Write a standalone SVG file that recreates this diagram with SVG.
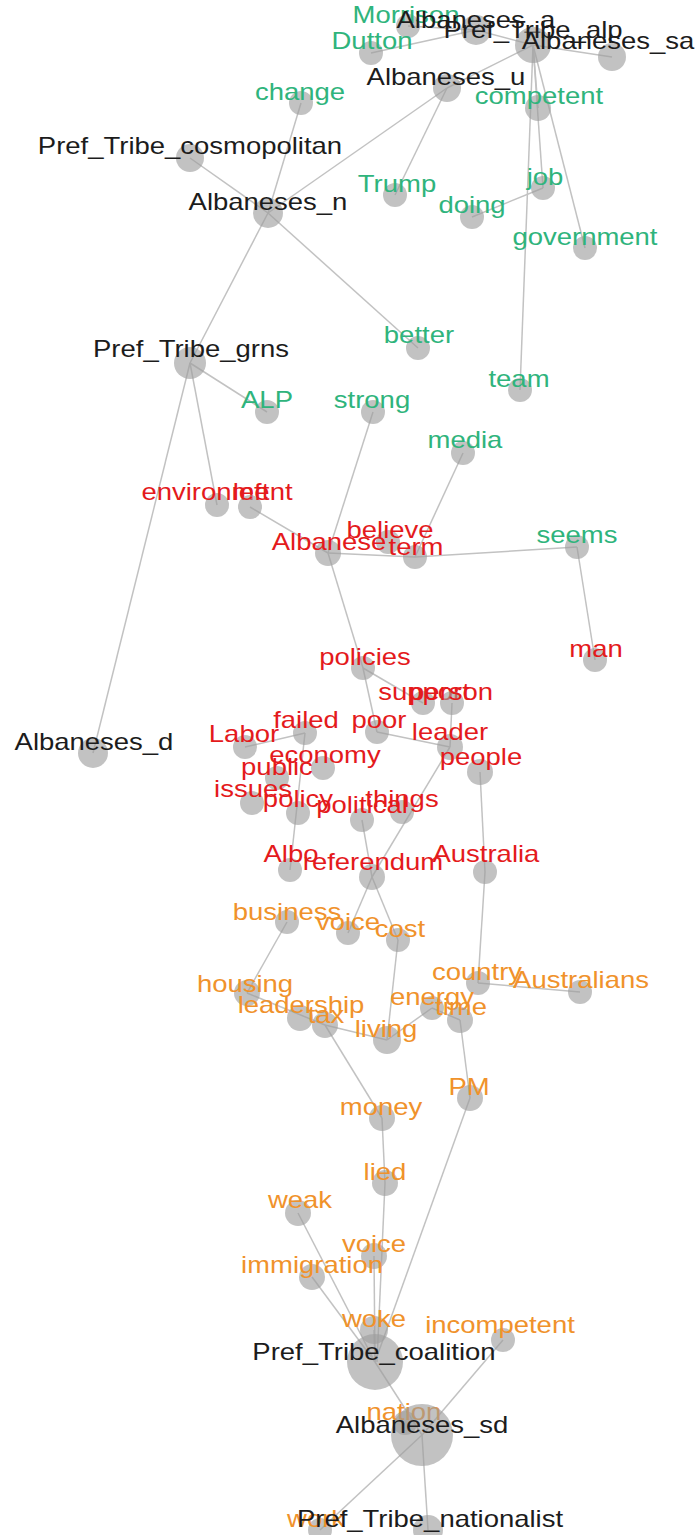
<svg xmlns="http://www.w3.org/2000/svg" width="698" height="1535" viewBox="0 0 698 1535">
<style>
text{font-family:"Liberation Sans",Arial,sans-serif;font-size:24px;text-anchor:middle;transform-box:fill-box;transform-origin:50% 50%;transform:scaleX(1.145)}
.k{fill:#1c1c1c}.g{fill:#2fb47c}.r{fill:#e41a1c}.o{fill:#f0922b}
circle{fill:#9c9c9c;fill-opacity:0.62}
#edges line{stroke:#c2c2c2;stroke-width:1.5}
</style>
<rect width="698" height="1535" fill="#ffffff"/>
<g id="edges">
<line x1="408" y1="26" x2="476" y2="30"/>
<line x1="371" y1="53" x2="476" y2="30"/>
<line x1="476" y1="30" x2="533" y2="45"/>
<line x1="612" y1="57" x2="533" y2="45"/>
<line x1="447" y1="88" x2="533" y2="45"/>
<line x1="538" y1="108" x2="533" y2="45"/>
<line x1="543" y1="188" x2="533" y2="45"/>
<line x1="585" y1="248" x2="533" y2="45"/>
<line x1="520" y1="390" x2="533" y2="45"/>
<line x1="395" y1="195" x2="447" y2="88"/>
<line x1="268" y1="213" x2="447" y2="88"/>
<line x1="301" y1="103" x2="268" y2="213"/>
<line x1="190" y1="158" x2="268" y2="213"/>
<line x1="268" y1="213" x2="418" y2="348"/>
<line x1="268" y1="213" x2="190" y2="363"/>
<line x1="190" y1="363" x2="267" y2="412"/>
<line x1="190" y1="363" x2="217" y2="505"/>
<line x1="190" y1="363" x2="93" y2="753"/>
<line x1="472" y1="217" x2="543" y2="188"/>
<line x1="250" y1="507" x2="328" y2="553"/>
<line x1="373" y1="412" x2="328" y2="553"/>
<line x1="328" y1="553" x2="415" y2="557"/>
<line x1="463" y1="453" x2="415" y2="557"/>
<line x1="415" y1="557" x2="577" y2="547"/>
<line x1="577" y1="547" x2="595" y2="660"/>
<line x1="328" y1="553" x2="363" y2="668"/>
<line x1="363" y1="668" x2="423" y2="703"/>
<line x1="363" y1="668" x2="377" y2="732"/>
<line x1="377" y1="732" x2="450" y2="747"/>
<line x1="452" y1="703" x2="450" y2="747"/>
<line x1="245" y1="747" x2="305" y2="733"/>
<line x1="305" y1="733" x2="290" y2="870"/>
<line x1="450" y1="747" x2="372" y2="877"/>
<line x1="362" y1="820" x2="372" y2="877"/>
<line x1="480" y1="772" x2="485" y2="872"/>
<line x1="485" y1="872" x2="478" y2="983"/>
<line x1="478" y1="983" x2="580" y2="992"/>
<line x1="372" y1="877" x2="348" y2="933"/>
<line x1="372" y1="877" x2="398" y2="940"/>
<line x1="398" y1="940" x2="387" y2="1040"/>
<line x1="287" y1="922" x2="247" y2="993"/>
<line x1="247" y1="993" x2="325" y2="1025"/>
<line x1="325" y1="1025" x2="387" y2="1040"/>
<line x1="387" y1="1040" x2="432" y2="1008"/>
<line x1="432" y1="1008" x2="460" y2="1020"/>
<line x1="460" y1="1020" x2="470" y2="1098"/>
<line x1="325" y1="1025" x2="382" y2="1118"/>
<line x1="382" y1="1118" x2="385" y2="1183"/>
<line x1="385" y1="1183" x2="377" y2="1362"/>
<line x1="298" y1="1213" x2="375" y2="1362"/>
<line x1="312" y1="1277" x2="375" y2="1362"/>
<line x1="374" y1="1256" x2="375" y2="1362"/>
<line x1="470" y1="1098" x2="375" y2="1362"/>
<line x1="374" y1="1330" x2="375" y2="1362"/>
<line x1="375" y1="1362" x2="422" y2="1435"/>
<line x1="503" y1="1340" x2="422" y2="1435"/>
<line x1="422" y1="1435" x2="320" y2="1530"/>
<line x1="422" y1="1435" x2="428" y2="1530"/>
</g>
<g id="n-morrison"><circle cx="408" cy="26" r="12"/><text class="g" x="406" y="23">Morrison</text></g>
<g id="n-albaneses-a"><circle cx="476" cy="30" r="15"/><text class="k" x="476" y="28">Albaneses_a</text></g>
<g id="n-dutton"><circle cx="371" cy="53" r="12"/><text class="g" x="372" y="49">Dutton</text></g>
<g id="n-pref-alp"><circle cx="533" cy="45" r="18"/><text class="k" x="533" y="38">Pref_Tribe_alp</text></g>
<g id="n-albaneses-sa"><circle cx="612" cy="57" r="14"/><text class="k" x="608" y="49">Albaneses_sa</text></g>
<g id="n-albaneses-u"><circle cx="447" cy="88" r="14"/><text class="k" x="446" y="85">Albaneses_u</text></g>
<g id="n-change"><circle cx="301" cy="103" r="12"/><text class="g" x="300" y="100">change</text></g>
<g id="n-competent"><circle cx="538" cy="108" r="13"/><text class="g" x="539" y="104">competent</text></g>
<g id="n-pref-cosmo"><circle cx="190" cy="158" r="14"/><text class="k" x="190" y="154">Pref_Tribe_cosmopolitan</text></g>
<g id="n-trump"><circle cx="395" cy="195" r="12"/><text class="g" x="397" y="192">Trump</text></g>
<g id="n-job"><circle cx="543" cy="188" r="12"/><text class="g" x="545" y="185">job</text></g>
<g id="n-albaneses-n"><circle cx="268" cy="213" r="15"/><text class="k" x="268" y="210">Albaneses_n</text></g>
<g id="n-doing"><circle cx="472" cy="217" r="12"/><text class="g" x="472" y="213">doing</text></g>
<g id="n-government"><circle cx="585" cy="248" r="12"/><text class="g" x="585" y="245">government</text></g>
<g id="n-better"><circle cx="418" cy="348" r="12"/><text class="g" x="419" y="343">better</text></g>
<g id="n-pref-grns"><circle cx="190" cy="363" r="16"/><text class="k" x="191" y="357">Pref_Tribe_grns</text></g>
<g id="n-team"><circle cx="520" cy="390" r="12"/><text class="g" x="519" y="387">team</text></g>
<g id="n-alp"><circle cx="267" cy="412" r="12"/><text class="g" x="267" y="408">ALP</text></g>
<g id="n-strong"><circle cx="373" cy="412" r="12"/><text class="g" x="372" y="408">strong</text></g>
<g id="n-media"><circle cx="463" cy="453" r="12"/><text class="g" x="465" y="448">media</text></g>
<g id="n-environment"><circle cx="217" cy="505" r="12"/><text class="r" x="217" y="500">environment</text></g>
<g id="n-left"><circle cx="250" cy="507" r="12"/><text class="r" x="251" y="500">left</text></g>
<g id="n-believe"><circle cx="388" cy="542" r="12"/><text class="r" x="390" y="538">believe</text></g>
<g id="n-albanese"><circle cx="328" cy="553" r="13"/><text class="r" x="329" y="550">Albanese</text></g>
<g id="n-term"><circle cx="415" cy="557" r="12"/><text class="r" x="416" y="555">term</text></g>
<g id="n-seems"><circle cx="577" cy="547" r="12"/><text class="g" x="577" y="543">seems</text></g>
<g id="n-man"><circle cx="595" cy="660" r="12"/><text class="r" x="596" y="657">man</text></g>
<g id="n-policies"><circle cx="363" cy="668" r="12"/><text class="r" x="365" y="665">policies</text></g>
<g id="n-support"><circle cx="423" cy="703" r="12"/><text class="r" x="424" y="700">support</text></g>
<g id="n-person"><circle cx="452" cy="703" r="12"/><text class="r" x="451" y="700">person</text></g>
<g id="n-failed"><circle cx="305" cy="733" r="12"/><text class="r" x="306" y="728">failed</text></g>
<g id="n-poor"><circle cx="377" cy="732" r="12"/><text class="r" x="379" y="728">poor</text></g>
<g id="n-labor"><circle cx="245" cy="747" r="12"/><text class="r" x="244" y="742">Labor</text></g>
<g id="n-leader"><circle cx="450" cy="747" r="13"/><text class="r" x="450" y="740">leader</text></g>
<g id="n-economy"><circle cx="323" cy="768" r="12"/><text class="r" x="325" y="763">economy</text></g>
<g id="n-people"><circle cx="480" cy="772" r="13"/><text class="r" x="481" y="765">people</text></g>
<g id="n-public"><circle cx="277" cy="778" r="12"/><text class="r" x="277" y="775">public</text></g>
<g id="n-issues"><circle cx="252" cy="803" r="12"/><text class="r" x="253" y="797">issues</text></g>
<g id="n-policy"><circle cx="298" cy="813" r="12"/><text class="r" x="298" y="807">policy</text></g>
<g id="n-things"><circle cx="402" cy="812" r="12"/><text class="r" x="402" y="807">things</text></g>
<g id="n-political"><circle cx="362" cy="820" r="12"/><text class="r" x="362" y="813">political</text></g>
<g id="n-albo"><circle cx="290" cy="870" r="12"/><text class="r" x="291" y="862">Albo</text></g>
<g id="n-referendum"><circle cx="372" cy="877" r="13"/><text class="r" x="373" y="870">referendum</text></g>
<g id="n-australia"><circle cx="485" cy="872" r="12"/><text class="r" x="486" y="862">Australia</text></g>
<g id="n-business"><circle cx="287" cy="922" r="12"/><text class="o" x="287" y="920">business</text></g>
<g id="n-voice"><circle cx="348" cy="933" r="12"/><text class="o" x="348" y="930">voice</text></g>
<g id="n-cost"><circle cx="398" cy="940" r="12"/><text class="o" x="400" y="937">cost</text></g>
<g id="n-country"><circle cx="478" cy="983" r="12"/><text class="o" x="477" y="980">country</text></g>
<g id="n-australians"><circle cx="580" cy="992" r="12"/><text class="o" x="581" y="988">Australians</text></g>
<g id="n-housing"><circle cx="247" cy="993" r="13"/><text class="o" x="245" y="992">housing</text></g>
<g id="n-energy"><circle cx="432" cy="1008" r="12"/><text class="o" x="432" y="1005">energy</text></g>
<g id="n-leadership"><circle cx="300" cy="1018" r="13"/><text class="o" x="301" y="1013">leadership</text></g>
<g id="n-time"><circle cx="460" cy="1020" r="13"/><text class="o" x="461" y="1015">time</text></g>
<g id="n-tax"><circle cx="325" cy="1025" r="13"/><text class="o" x="326" y="1023">tax</text></g>
<g id="n-living"><circle cx="387" cy="1040" r="14"/><text class="o" x="386" y="1037">living</text></g>
<g id="n-pm"><circle cx="470" cy="1098" r="13"/><text class="o" x="469" y="1095">PM</text></g>
<g id="n-money"><circle cx="382" cy="1118" r="13"/><text class="o" x="381" y="1115">money</text></g>
<g id="n-lied"><circle cx="385" cy="1183" r="13"/><text class="o" x="385" y="1180">lied</text></g>
<g id="n-weak"><circle cx="298" cy="1213" r="13"/><text class="o" x="300" y="1208">weak</text></g>
<g id="n-voice2"><circle cx="374" cy="1256" r="13"/><text class="o" x="374" y="1252">voice</text></g>
<g id="n-immigration"><circle cx="312" cy="1277" r="13"/><text class="o" x="312" y="1273">immigration</text></g>
<g id="n-woke"><circle cx="374" cy="1330" r="14"/><text class="o" x="374" y="1327">woke</text></g>
<g id="n-incompetent"><circle cx="503" cy="1340" r="12"/><text class="o" x="500" y="1333">incompetent</text></g>
<g id="n-pref-coalition"><circle cx="375" cy="1362" r="28"/><text class="k" x="374" y="1360">Pref_Tribe_coalition</text></g>
<g id="n-nation"><circle cx="405" cy="1423" r="12"/><text class="o" x="404" y="1420">nation</text></g>
<g id="n-albaneses-sd"><circle cx="422" cy="1435" r="31"/><text class="k" x="422" y="1433">Albaneses_sd</text></g>
<g id="n-work"><circle cx="320" cy="1530" r="12"/><text class="o" x="316" y="1527">work</text></g>
<g id="n-pref-nationalist"><circle cx="428" cy="1530" r="15"/><text class="k" x="430" y="1527">Pref_Tribe_nationalist</text></g>
<g id="n-albaneses-d"><circle cx="93" cy="753" r="15"/><text class="k" x="94" y="750">Albaneses_d</text></g>
</svg>
